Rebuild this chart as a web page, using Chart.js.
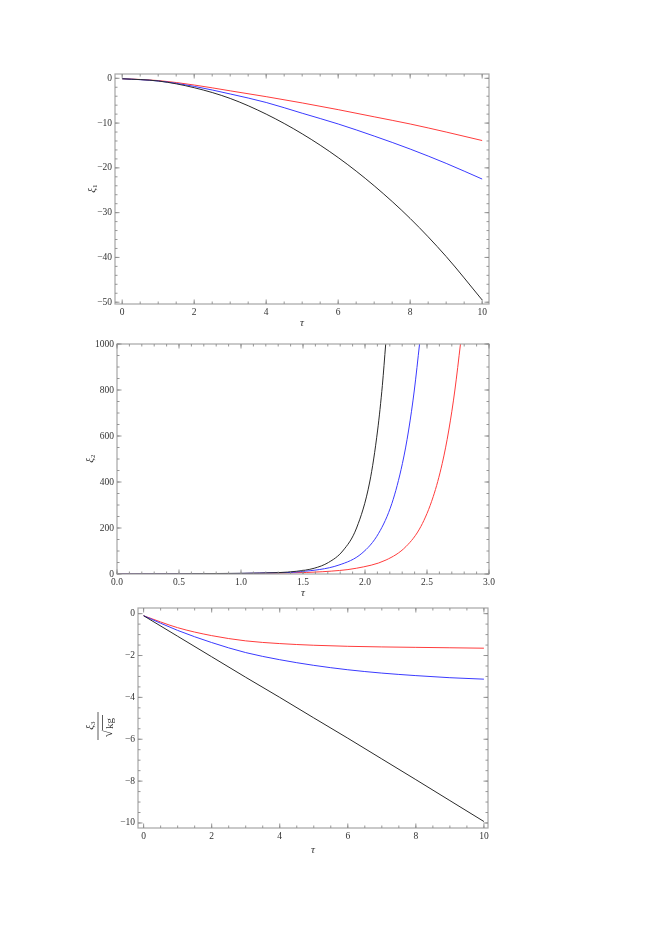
<!DOCTYPE html>
<html>
<head>
<meta charset="utf-8">
<script src="https://cdn.jsdelivr.net/npm/chart.js@4/dist/chart.umd.min.js"></script>
<style>
  body { margin: 0; background: #fff; }
  canvas { position: absolute; left: 0; }
</style>
</head>
<body>
<canvas id="c1" width="520" height="280" style="top:54px"></canvas>
<canvas id="c2" width="520" height="280" style="top:324px"></canvas>
<canvas id="c3" width="520" height="270" style="top:588px"></canvas>
<script>
// panel 1 : xi1 vs tau
const tau1 = [0, 1, 2, 3, 4, 5, 6, 7, 8, 9, 10];
const xi1Black = [-0.1, -0.6, -2.1, -4.5, -8.0, -12.4, -17.7, -24.0, -31.3, -39.8, -49.5];
const xi1Blue = [-0.1, -0.6, -1.8, -3.5, -5.4, -7.8, -10.2, -12.9, -15.8, -19.0, -22.5];
const xi1Red = [-0.1, -0.5, -1.5, -2.8, -4.1, -5.5, -7.0, -8.6, -10.2, -12.0, -13.9];

// panel 2 : xi2 vs tau (each curve leaves the frame at 1000)
const tau2Black = [0, 0.5, 1.0, 1.3, 1.45, 1.59, 1.705, 1.82, 1.932, 2.038, 2.102, 2.14, 2.167];
const xi2Black = [0, 0.8, 3, 6, 12, 25, 50, 100, 200, 400, 626, 820, 1000];
const tau2Blue = [0, 0.5, 1.0, 1.25, 1.48, 1.79, 1.975, 2.11, 2.217, 2.302, 2.352, 2.398, 2.44];
const xi2Blue = [0, 0.6, 2.5, 5, 10, 39, 90, 177, 307, 481, 626, 800, 1000];
const tau2Red = [0, 0.5, 1.0, 1.4, 1.66, 1.93, 2.17, 2.33, 2.45, 2.55, 2.623, 2.676, 2.725, 2.77];
const xi2Red = [0, 0.5, 2, 5, 10, 25, 61, 119, 206, 336, 481, 626, 800, 1000];

// panel 3 : xi3/sqrt(kg) vs tau
const tau3 = [0, 1, 2, 3, 4, 5, 6, 7, 8, 9, 10];
const xi3Black = [-0.1, -1.08, -2.06, -3.04, -4.0, -4.98, -5.95, -6.94, -7.93, -8.93, -9.93];
const xi3Blue = [-0.1, -0.8, -1.38, -1.86, -2.2, -2.47, -2.68, -2.84, -2.96, -3.06, -3.13];
const xi3Red = [-0.1, -0.67, -1.05, -1.3, -1.43, -1.51, -1.56, -1.59, -1.61, -1.63, -1.65];

// tick marks
const ticks1x = [0, 2, 4, 6, 8, 10];
const ticks1y = [0, -10, -20, -30, -40, -50];
const ticks2x = [0, 0.5, 1.0, 1.5, 2.0, 2.5, 3.0];
const ticks2y = [0, 200, 400, 600, 800, 1000];
const ticks3x = [0, 2, 4, 6, 8, 10];
const ticks3y = [0, -2, -4, -6, -8, -10];

const BLACK = '#2a2a2a', BLUE = '#3a3aff', RED = '#ff3c3c';
const FONT = '"Liberation Serif", "DejaVu Serif", serif';

function pts(xs, ys) { return xs.map((v, i) => ({x: v, y: ys[i]})); }
function fmt(v, dec) {
    let s = Math.abs(v).toFixed(dec);
    return v < 0 ? '\u2212' + s : s;
}
function range(a, b, step) {
    let out = [];
    for (let v = a; v <= b + 1e-9; v += step) out.push(+v.toFixed(6));
    return out;
}

const framePlugin = {
    id: 'frame',
    afterDatasetsDraw(chart, args, o) {
        const {ctx, chartArea: a, scales: {x, y}} = chart;
        ctx.save();
        ctx.strokeStyle = '#a6a6a6';
        ctx.lineWidth = 1.2;
        ctx.strokeRect(a.left, a.top, a.right - a.left, a.bottom - a.top);
        ctx.lineWidth = 0.9;
        ctx.strokeStyle = '#8c8c8c';
        const tick = (vals, len, horiz) => {
            vals.forEach(v => {
                ctx.beginPath();
                if (horiz) {
                    const p = x.getPixelForValue(v);
                    if (p < a.left - 0.5 || p > a.right + 0.5) return;
                    ctx.moveTo(p, a.bottom); ctx.lineTo(p, a.bottom - len);
                    ctx.moveTo(p, a.top); ctx.lineTo(p, a.top + len);
                } else {
                    const p = y.getPixelForValue(v);
                    if (p < a.top - 0.5 || p > a.bottom + 0.5) return;
                    ctx.moveTo(a.left, p); ctx.lineTo(a.left + len, p);
                    ctx.moveTo(a.right, p); ctx.lineTo(a.right - len, p);
                }
                ctx.stroke();
            });
        };
        tick(o.xMinor, 2.5, true);
        tick(o.xMajor, 4.5, true);
        tick(o.yMinor, 2.5, false);
        tick(o.yMajor, 4.5, false);
        ctx.restore();
    },
    afterDraw(chart, args, o) {
        const {ctx, chartArea: a} = chart;
        ctx.save();
        ctx.fillStyle = '#333';
        // x title
        ctx.font = 'italic 11px ' + FONT;
        ctx.textAlign = 'center';
        ctx.textBaseline = 'middle';
        ctx.fillText('\u03c4', (a.left + a.right) / 2, a.bottom + o.xTitleOff);
        // y title, rotated
        ctx.translate(o.yTitleX, (a.top + a.bottom) / 2 + (o.yTitleDy || 0));
        ctx.rotate(-Math.PI / 2);
        if (!o.frac) {
            ctx.font = 'italic 11px ' + FONT;
            ctx.textAlign = 'right';
            ctx.fillText('\u03be', 1, 0);
            ctx.font = '7px ' + FONT;
            ctx.textAlign = 'left';
            ctx.fillText(o.sub, 1, 3);
        } else {
            // numerator
            ctx.font = 'italic 11px ' + FONT;
            ctx.textAlign = 'right';
            ctx.fillText('\u03be', 1, -8);
            ctx.font = '7px ' + FONT;
            ctx.textAlign = 'left';
            ctx.fillText(o.sub, 1, -5);
            // fraction bar
            ctx.strokeStyle = '#333';
            ctx.lineWidth = 0.8;
            ctx.beginPath();
            ctx.moveTo(-14, 0); ctx.lineTo(14, 0);
            ctx.stroke();
            // denominator sqrt(kg)
            ctx.font = '13px ' + FONT;
            ctx.textAlign = 'right';
            ctx.fillText('\u221a', -4, 11);
            ctx.font = '11px ' + FONT;
            ctx.textAlign = 'left';
            ctx.fillText('kg', -3, 12);
            ctx.beginPath();
            ctx.moveTo(-4, 4.5); ctx.lineTo(11, 4.5);
            ctx.stroke();
        }
        ctx.restore();
    }
};

function makeChart(id, cfg) {
    const c = document.getElementById(id);
    const W = c.width, H = c.height;
    const line = (data, color) => ({
        data: data, borderColor: color, borderWidth: 1, pointRadius: 0,
        fill: false, cubicInterpolationMode: 'monotone'
    });
    new Chart(c, {
        type: 'line',
        data: {
            datasets: [
                line(cfg.black, BLACK),
                line(cfg.blue, BLUE),
                line(cfg.red, RED)
            ]
        },
        options: {
            responsive: false,
            animation: false,
            events: [],
            layout: { padding: { top: 20, right: W - cfg.right, left: 0, bottom: 0 } },
            plugins: {
                legend: { display: false },
                tooltip: { enabled: false },
                frame: {
                    xMajor: cfg.xMajor, xMinor: cfg.xMinor,
                    yMajor: cfg.yMajor, yMinor: cfg.yMinor,
                    xTitleOff: cfg.xTitleOff, yTitleX: cfg.yTitleX,
                    sub: cfg.sub, frac: cfg.frac, yTitleDy: cfg.yTitleDy
                }
            },
            scales: {
                x: {
                    type: 'linear', min: cfg.xMin, max: cfg.xMax,
                    grid: { display: false, drawTicks: false },
                    border: { display: false },
                    afterBuildTicks: s => { s.ticks = cfg.xMajor.map(v => ({value: v})); },
                    afterFit: s => { s.height = H - 20 - cfg.frameH; },
                    ticks: {
                        padding: 3, maxRotation: 0, autoSkip: false,
                        color: '#333', font: { family: FONT, size: 9.5 },
                        callback: v => fmt(v, cfg.xDec)
                    }
                },
                y: {
                    type: 'linear', min: cfg.yMin, max: cfg.yMax,
                    grid: { display: false, drawTicks: false },
                    border: { display: false },
                    afterBuildTicks: s => { s.ticks = cfg.yMajor.map(v => ({value: v})); },
                    afterFit: s => { s.width = cfg.left; },
                    ticks: {
                        padding: 3, autoSkip: false,
                        color: '#333', font: { family: FONT, size: 9.5 },
                        callback: v => fmt(v, 0)
                    }
                }
            }
        },
        plugins: [framePlugin]
    });
}

makeChart('c1', {
    black: pts(tau1, xi1Black), blue: pts(tau1, xi1Blue), red: pts(tau1, xi1Red),
    left: 115, right: 489, frameH: 230,
    xMin: -0.2, xMax: 10.19, yMin: -50.4, yMax: 0.96,
    xMajor: ticks1x, xMinor: range(0, 10, 0.5),
    yMajor: ticks1y, yMinor: range(-50, 0, 2),
    xDec: 0, xTitleOff: 19, yTitleX: 92, sub: '1'
});

makeChart('c2', {
    black: pts(tau2Black, xi2Black), blue: pts(tau2Blue, xi2Blue), red: pts(tau2Red, xi2Red),
    left: 117, right: 489, frameH: 230,
    xMin: 0, xMax: 3, yMin: 0, yMax: 1000,
    xMajor: ticks2x, xMinor: range(0, 3, 0.1),
    yMajor: ticks2y, yMinor: range(0, 1000, 50),
    xDec: 1, xTitleOff: 19, yTitleX: 90, sub: '2'
});

makeChart('c3', {
    black: pts(tau3, xi3Black), blue: pts(tau3, xi3Blue), red: pts(tau3, xi3Red),
    left: 138, right: 488, frameH: 220,
    xMin: -0.165, xMax: 10.12, yMin: -10.24, yMax: 0.27,
    xMajor: ticks3x, xMinor: range(0, 10, 0.5),
    yMajor: ticks3y, yMinor: range(-10, 0, 0.5),
    xDec: 0, xTitleOff: 22, yTitleX: 98, sub: '3', frac: true, yTitleDy: 8
});
</script>
</body>
</html>
